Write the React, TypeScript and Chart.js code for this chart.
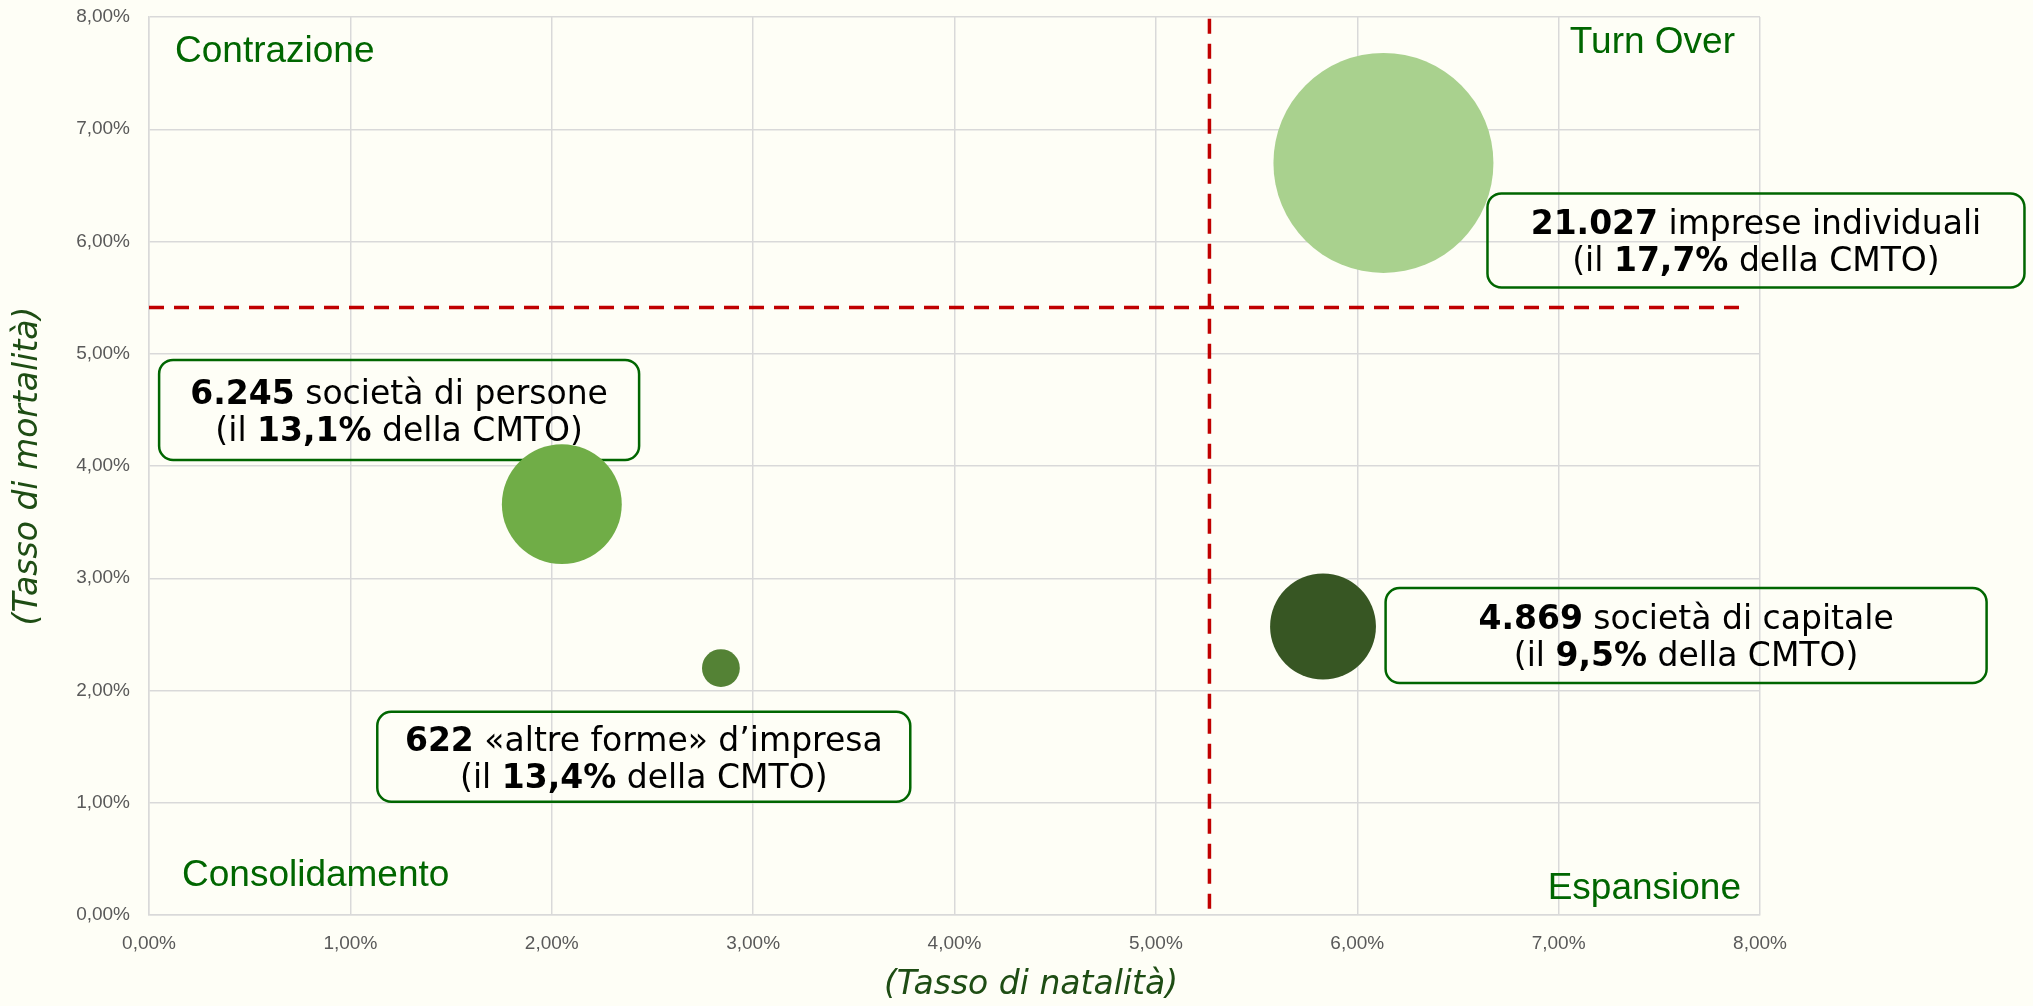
import React, { useEffect, useRef } from "react";
import { Chart, registerables } from "chart.js";

Chart.register(...registerables);

// ---- Data ----
const categories = ["imprese individuali", "società di persone", "«altre forme» d’impresa", "società di capitale"];
const firmCounts = [21027, 6245, 622, 4869];
const shareCMTO = ["17,7%", "13,1%", "13,4%", "9,5%"];
const birthRate = [6.13, 2.05, 2.84, 5.83]; // Tasso di natalità (%)
const deathRate = [6.70, 3.66, 2.20, 2.57]; // Tasso di mortalità (%)
const bubbleColors = ["#A9D18E", "#70AD47", "#548235", "#375623"];

const avgBirthRate = 5.266; // vertical threshold
const avgDeathRate = 5.413; // horizontal threshold
const vLineYRange = [0.056, 8];
const hLineXRange = [0, 7.93];

const axisMin = 0;
const axisMax = 8;
const tickStep = 1;

const quadrantLabels = ["Contrazione", "Turn Over", "Consolidamento", "Espansione"];
const xAxisTitle = "(Tasso di natalità)";
const yAxisTitle = "(Tasso di mortalità)";

// ---- Layout / style (not data) ----
const W = 2033;
const H = 1006;
const BG = "#FEFEF6";
const BUBBLE_K = 0.7586; // px radius per sqrt(count)
const BOX_FONT = '"DejaVu Sans", Verdana, sans-serif';
const BOX_FONT_SIZE = 33;
const QUAD_FONT = '37px "Liberation Sans", Arial, sans-serif';
const QUAD_COLOR = "#006600";
const TICK_FONT = { family: '"Liberation Sans", Arial, sans-serif', size: 19 };

// box centers in data units, sizes in px (same order as categories)
const boxLayout = [
  { cx: 7.98, cy: 6.01, w: 537, h: 94 },
  { cx: 1.242, cy: 4.5, w: 480, h: 100 },
  { cx: 2.457, cy: 1.41, w: 533, h: 90 },
  { cx: 7.633, cy: 2.49, w: 601, h: 95 },
];
// quadrant label positions in px: [x, baseline, align]
const quadLayout: [number, number, CanvasTextAlign][] = [
  [175, 62, "left"],
  [1735, 53, "right"],
  [182, 886, "left"],
  [1741, 899, "right"],
];

function fmtThousands(n: number): string {
  return String(n).replace(/\B(?=(\d{3})+(?!\d))/g, ".");
}
function fmtPct(v: number): string {
  return v.toFixed(2).replace(".", ",") + "%";
}

type Seg = { text: string; bold: boolean };

function drawRich(ctx: CanvasRenderingContext2D, segs: Seg[], cx: number, y: number, size: number) {
  let total = 0;
  const widths = segs.map((s) => {
    ctx.font = `${s.bold ? "bold " : ""}${size}px ${BOX_FONT}`;
    const w = ctx.measureText(s.text).width;
    total += w;
    return w;
  });
  let x = cx - total / 2;
  segs.forEach((s, i) => {
    ctx.font = `${s.bold ? "bold " : ""}${size}px ${BOX_FONT}`;
    ctx.fillText(s.text, x, y);
    x += widths[i];
  });
}

const decorPlugin = {
  id: "decor",
  beforeDraw(chart: any) {
    const ctx = chart.ctx as CanvasRenderingContext2D;
    ctx.save();
    ctx.fillStyle = BG;
    ctx.fillRect(0, 0, chart.width, chart.height);
    ctx.restore();
  },
  beforeDatasetsDraw(chart: any) {
    const ctx = chart.ctx as CanvasRenderingContext2D;
    const xs = chart.scales.x;
    const ys = chart.scales.y;
    ctx.save();
    // quadrant labels
    ctx.font = QUAD_FONT;
    ctx.fillStyle = QUAD_COLOR;
    ctx.textBaseline = "alphabetic";
    quadrantLabels.forEach((t, i) => {
      const [x, y, a] = quadLayout[i];
      ctx.textAlign = a;
      ctx.fillText(t, x, y);
    });
    // annotation boxes
    ctx.textAlign = "left";
    categories.forEach((cat, i) => {
      const b = boxLayout[i];
      const cx = xs.getPixelForValue(b.cx);
      const cy = ys.getPixelForValue(b.cy);
      ctx.beginPath();
      ctx.roundRect(cx - b.w / 2, cy - b.h / 2, b.w, b.h, 14);
      ctx.lineWidth = 2.5;
      ctx.strokeStyle = "#006600";
      ctx.stroke();
      ctx.fillStyle = "#000000";
      drawRich(ctx, [
        { text: fmtThousands(firmCounts[i]), bold: true },
        { text: " " + cat, bold: false },
      ], cx, cy - 6, BOX_FONT_SIZE);
      drawRich(ctx, [
        { text: "(il ", bold: false },
        { text: shareCMTO[i], bold: true },
        { text: " della CMTO)", bold: false },
      ], cx, cy + 31, BOX_FONT_SIZE);
    });
    // axis titles
    ctx.fillStyle = "#1E4D14";
    ctx.font = `italic 33px ${BOX_FONT}`;
    ctx.textAlign = "center";
    ctx.textBaseline = "middle";
    ctx.fillText(xAxisTitle, 1031, 985);
    ctx.translate(28, 466);
    ctx.rotate(-Math.PI / 2);
    ctx.fillText(yAxisTitle, 0, 0);
    ctx.restore();
  },
};

export default function App() {
  const ref = useRef<HTMLCanvasElement | null>(null);
  useEffect(() => {
    document.body.style.margin = "0";
    document.body.style.background = BG;
    const canvas = ref.current!;
    const dashStyle = {
      borderColor: "#C00000",
      borderWidth: 3.5,
      borderDash: [15, 10],
      pointRadius: 0,
      fill: false,
      order: 2,
    };
    const chart = new Chart(canvas, {
      type: "bubble",
      data: {
        datasets: [
          {
            type: "line" as any,
            label: "media natalità",
            data: [
              { x: avgBirthRate, y: vLineYRange[0] },
              { x: avgBirthRate, y: vLineYRange[1] },
            ],
            ...dashStyle,
          } as any,
          {
            type: "line" as any,
            label: "media mortalità",
            data: [
              { x: hLineXRange[0], y: avgDeathRate },
              { x: hLineXRange[1], y: avgDeathRate },
            ],
            ...dashStyle,
          } as any,
          {
            type: "bubble",
            label: "Forme d'impresa",
            data: categories.map((_, i) => ({
              x: birthRate[i],
              y: deathRate[i],
              r: BUBBLE_K * Math.sqrt(firmCounts[i]),
            })),
            backgroundColor: bubbleColors,
            borderWidth: 0,
            hoverRadius: 0,
            order: 1,
          } as any,
        ],
      },
      options: {
        responsive: false,
        animation: false,
        devicePixelRatio: 1,
        events: [],
        layout: { autoPadding: false, padding: { left: 0, top: 17, right: 273, bottom: 0 } },
        plugins: {
          legend: { display: false },
          tooltip: { enabled: false },
        },
        scales: {
          x: {
            type: "linear",
            min: axisMin,
            max: axisMax,
            ticks: {
              stepSize: tickStep,
              callback: (v: any) => fmtPct(Number(v)),
              color: "#595959",
              font: TICK_FONT,
              padding: 17,
            },
            grid: { color: "#D9D9D9", lineWidth: 1.5, drawTicks: false },
            border: { color: "#D9D9D9", width: 1.5 },
            afterFit: (s: any) => {
              s.height = 91;
              s.paddingLeft = 0;
              s.paddingRight = 0;
            },
          },
          y: {
            type: "linear",
            min: axisMin,
            max: axisMax,
            ticks: {
              stepSize: tickStep,
              callback: (v: any) => fmtPct(Number(v)),
              color: "#595959",
              font: TICK_FONT,
              padding: 19,
            },
            grid: { color: "#D9D9D9", lineWidth: 1.5, drawTicks: false },
            border: { color: "#D9D9D9", width: 1.5 },
            afterFit: (s: any) => {
              s.width = 149;
              s.paddingTop = 0;
              s.paddingBottom = 0;
            },
          },
        },
      },
      plugins: [decorPlugin],
    });
    return () => chart.destroy();
  }, []);
  return (
    <canvas
      ref={ref}
      width={W}
      height={H}
      style={{ display: "block", width: W + "px", height: H + "px" }}
    />
  );
}
